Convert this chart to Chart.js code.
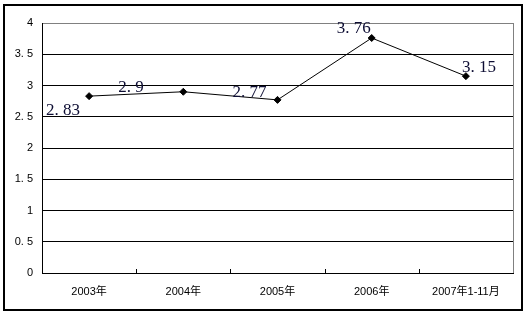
<!DOCTYPE html>
<html>
<head>
<meta charset="utf-8">
<script src="https://cdn.jsdelivr.net/npm/chart.js@4/dist/chart.umd.min.js"></script>
<style>
  html, body { margin: 0; padding: 0; background: #fff; }
  #wrap { width: 527px; height: 317px; position: relative; }
</style>
</head>
<body>
<div id="wrap"><canvas id="chart"></canvas></div>
<script>
const categories = ['2003年', '2004年', '2005年', '2006年', '2007年1-11月'];
const values = [2.83, 2.9, 2.77, 3.76, 3.15];
const yTicks = [0, 0.5, 1, 1.5, 2, 2.5, 3, 3.5, 4];

// where each value label sits relative to its point (Excel-like placement)
const labelShift = [[-43, 19], [-65, 0], [-45, -3], [-35, -5], [-4, -4]];

const fmt = v => String(v).replace('.', '. ');

const framePlugin = {
    id: 'frame',
    afterDraw(chart) {
        const ctx = chart.ctx;
        const a = chart.chartArea;
        const x = chart.scales.x;
        ctx.save();
        // outer border
        ctx.strokeStyle = '#000';
        ctx.lineWidth = 2;
        ctx.strokeRect(4, 5, 518, 305);
        // gray right edge of plot
        ctx.strokeStyle = '#808080';
        ctx.lineWidth = 1;
        ctx.beginPath();
        ctx.moveTo(Math.round(a.right) + 0.5, a.top);
        ctx.lineTo(Math.round(a.right) + 0.5, a.bottom);
        ctx.stroke();
        // inward tick marks between categories
        ctx.strokeStyle = '#000';
        const half = (x.getPixelForValue(1) - x.getPixelForValue(0)) / 2;
        for (let i = 1; i < categories.length; i++) {
            const px = Math.round(x.getPixelForValue(i) - half) + 0.5;
            ctx.beginPath();
            ctx.moveTo(px, a.bottom);
            ctx.lineTo(px, a.bottom - 4);
            ctx.stroke();
        }
        // value labels
        ctx.font = '17px "Liberation Serif", serif';
        ctx.fillStyle = '#0d0d33';
        ctx.textBaseline = 'alphabetic';
        ctx.textAlign = 'left';
        chart.getDatasetMeta(0).data.forEach((pt, i) => {
            ctx.fillText(fmt(values[i]), pt.x + labelShift[i][0], pt.y + labelShift[i][1]);
        });
        ctx.restore();
    }
};

new Chart(document.getElementById('chart'), {
    type: 'line',
    data: {
        labels: categories,
        datasets: [{
            data: values,
            borderColor: '#000',
            borderWidth: 1,
            backgroundColor: '#000',
            pointStyle: 'rectRot',
            pointRadius: 3.5,
            pointBackgroundColor: '#000',
            pointBorderColor: '#000',
            tension: 0,
            fill: false
        }]
    },
    options: {
        responsive: true,
        maintainAspectRatio: false,
        animation: false,
        layout: { padding: { left: 0, top: 23, right: 14, bottom: 0 } },
        plugins: {
            legend: { display: false },
            tooltip: { enabled: false }
        },
        scales: {
            x: {
                offset: true,
                grid: { display: false, drawTicks: false },
                border: { color: '#000', width: 1 },
                ticks: {
                    padding: 12,
                    color: '#000',
                    font: { size: 11, family: '"Liberation Sans", "Noto Sans CJK SC", sans-serif' }
                },
                afterFit(scale) { scale.height = 44; }
            },
            y: {
                min: 0,
                max: 4,
                afterBuildTicks(scale) { scale.ticks = yTicks.map(v => ({ value: v })); },
                grid: {
                    drawTicks: false,
                    color: c => (c.tick && c.tick.value === 4 ? '#808080' : '#000'),
                    lineWidth: 1
                },
                border: { color: '#000', width: 1 },
                ticks: {
                    padding: 9,
                    color: '#000',
                    font: { size: 11, family: '"Liberation Sans", sans-serif' },
                    callback: v => fmt(v)
                },
                afterFit(scale) { scale.width = 42; }
            }
        }
    },
    plugins: [framePlugin]
});
</script>
</body>
</html>
